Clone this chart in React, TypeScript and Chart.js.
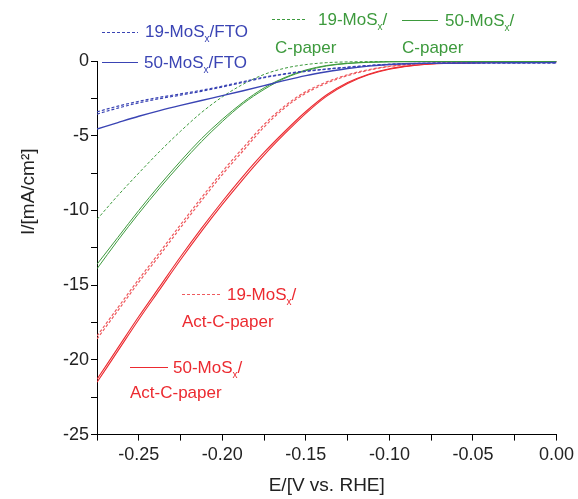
import React, { useEffect, useRef } from "react";
import { Chart, registerables } from "chart.js";

Chart.register(...registerables);

// Potential (V vs. RHE)
const potential = [
  -0.275, -0.2625, -0.25, -0.2375, -0.225, -0.2125, -0.2, -0.1875, -0.175, -0.1625,
  -0.15, -0.1375, -0.125, -0.1125, -0.1, -0.0875, -0.075, -0.05, -0.025, 0.0,
];

// Current density (mA/cm2)
const mos19FTO_a = [-3.4, -3.02, -2.7, -2.43, -2.2, -1.96, -1.68, -1.38, -1.08, -0.85, -0.67, -0.53, -0.41, -0.3, -0.22, -0.17, -0.15, -0.13, -0.12, -0.12];
const mos19FTO_b = [-3.55, -3.15, -2.8, -2.52, -2.28, -2.03, -1.74, -1.43, -1.12, -0.88, -0.7, -0.55, -0.43, -0.31, -0.23, -0.18, -0.15, -0.13, -0.12, -0.12];
const mos50FTO = [-4.55, -4.12, -3.7, -3.32, -2.97, -2.64, -2.32, -1.99, -1.65, -1.3, -0.98, -0.72, -0.5, -0.34, -0.23, -0.17, -0.15, -0.13, -0.12, -0.1];
const mos19CP = [-10.6, -9.0, -7.5, -6.05, -4.7, -3.45, -2.4, -1.55, -0.9, -0.48, -0.24, -0.11, -0.06, -0.04, -0.03, -0.03, -0.03, -0.03, -0.03, -0.03];
const mos50CP_a = [-13.6, -11.8, -10.0, -8.3, -6.7, -5.2, -3.9, -2.75, -1.8, -1.1, -0.6, -0.3, -0.15, -0.08, -0.05, -0.04, -0.03, -0.03, -0.03, -0.03];
const mos50CP_b = [-13.9, -12.0, -10.2, -8.5, -6.9, -5.4, -4.05, -2.85, -1.9, -1.15, -0.65, -0.33, -0.17, -0.09, -0.05, -0.04, -0.03, -0.03, -0.03, -0.03];
const mos19Act_a = [-18.4, -16.5, -14.6, -12.8, -10.95, -9.15, -7.4, -5.8, -4.25, -3.0, -2.05, -1.4, -0.92, -0.58, -0.35, -0.22, -0.15, -0.1, -0.07, -0.05];
const mos19Act_b = [-18.6, -16.7, -14.8, -13.0, -11.15, -9.35, -7.6, -6.0, -4.42, -3.12, -2.15, -1.48, -0.98, -0.62, -0.37, -0.23, -0.15, -0.1, -0.07, -0.05];
const mos50Act_a = [-21.5, -19.4, -17.3, -15.3, -13.3, -11.4, -9.6, -7.9, -6.3, -4.85, -3.5, -2.35, -1.5, -0.92, -0.55, -0.33, -0.2, -0.12, -0.07, -0.05];
const mos50Act_b = [-21.3, -19.2, -17.1, -15.1, -13.1, -11.2, -9.4, -7.7, -6.12, -4.7, -3.38, -2.26, -1.44, -0.88, -0.52, -0.31, -0.19, -0.12, -0.07, -0.05];

// Tick positions
const xTickValues = [-0.275, -0.25, -0.225, -0.2, -0.175, -0.15, -0.125, -0.1, -0.075, -0.05, -0.025, 0.0];
const xTickLabels = ["", "-0.25", "", "-0.20", "", "-0.15", "", "-0.10", "", "-0.05", "", "0.00"];
const yTickValues = [-25, -22.5, -20, -17.5, -15, -12.5, -10, -7.5, -5, -2.5, 0];
const yTickLabels = ["-25", "", "-20", "", "-15", "", "-10", "", "-5", "", "0"];

const BLUE = "#3a44b4";
const GREEN = "#3d9a3d";
const RED = "#ec2a30";
const RED_DASH = "#ee5a5e";
const FONT = "'Liberation Sans', Arial, sans-serif";

const toPts = (ys: number[]) => potential.map((x, i) => ({ x, y: ys[i] }));

const yTitlePlugin = {
  id: "yTitle",
  afterDraw(chart: any) {
    const { ctx, chartArea } = chart;
    ctx.save();
    ctx.translate(chartArea.left - 68, chartArea.top + (chartArea.bottom - chartArea.top) * 0.35);
    ctx.rotate(-Math.PI / 2);
    ctx.fillStyle = "#222";
    ctx.textAlign = "center";
    ctx.textBaseline = "middle";
    ctx.font = `19px ${FONT}`;
    ctx.fillText("I/[mA/cm²]", 0, 0);
    ctx.restore();
  },
};

function Sample({ left, top, width, color, dashed }: any) {
  return (
    <div
      style={{
        position: "absolute",
        left,
        top,
        width,
        height: 1,
        background: dashed
          ? `repeating-linear-gradient(90deg, ${color} 0 3px, transparent 3px 5px)`
          : color,
      }}
    />
  );
}

function Label({ left, top, color, children }: any) {
  return (
    <div
      style={{
        position: "absolute",
        left,
        top,
        color,
        fontFamily: FONT,
        fontSize: 17,
        lineHeight: "17px",
        whiteSpace: "nowrap",
      }}
    >
      {children}
    </div>
  );
}

const Sub = () => (
  <span style={{ fontSize: 10, position: "relative", top: 5 }}>x</span>
);

export default function App() {
  const ref = useRef<HTMLCanvasElement>(null);

  useEffect(() => {
    document.body.style.margin = "0";
    const mk = (data: number[], color: string, dashed: boolean, width = 1.2) => ({
      data: toPts(data),
      borderColor: color,
      borderWidth: width,
      borderDash: dashed ? [3, 2] : [],
      pointRadius: 0,
      cubicInterpolationMode: "monotone" as const,
      fill: false,
    });
    const chart = new Chart(ref.current!, {
      type: "line",
      data: {
        datasets: [
          mk(mos19FTO_a, BLUE, true),
          mk(mos19FTO_b, BLUE, true),
          mk(mos50FTO, BLUE, false, 1.4),
          mk(mos19CP, GREEN, true, 1),
          mk(mos50CP_a, GREEN, false, 1),
          mk(mos50CP_b, GREEN, false, 1),
          mk(mos19Act_a, RED_DASH, true),
          mk(mos19Act_b, RED_DASH, true),
          mk(mos50Act_a, RED, false, 1.1),
          mk(mos50Act_b, RED, false, 1.1),
        ] as any,
      },
      options: {
        animation: false,
        responsive: false,
        maintainAspectRatio: false,
        layout: { padding: { left: 61, top: 61, right: 19, bottom: 2 } },
        plugins: { legend: { display: false }, tooltip: { enabled: false } },
        scales: {
          x: {
            type: "linear",
            min: -0.275,
            max: 0,
            afterBuildTicks: (s: any) => {
              s.ticks = xTickValues.map((v) => ({ value: v }));
            },
            ticks: {
              autoSkip: false,
              maxRotation: 0,
              padding: 4,
              color: "#222",
              font: { family: FONT, size: 18 },
              callback: (v: any) => {
                const i = xTickValues.findIndex((t) => Math.abs(t - v) < 1e-9);
                return i >= 0 ? xTickLabels[i] : "";
              },
            },
            grid: { drawOnChartArea: false, drawTicks: true, tickLength: 6, color: "#000" },
            border: { color: "#000", width: 1 },
            title: {
              display: true,
              text: "E/[V vs. RHE]",
              color: "#222",
              font: { family: FONT, size: 19 },
              padding: { top: 4, bottom: 0 },
            },
          },
          y: {
            type: "linear",
            min: -25,
            max: 0,
            afterBuildTicks: (s: any) => {
              s.ticks = yTickValues.map((v) => ({ value: v }));
            },
            ticks: {
              autoSkip: false,
              padding: 2,
              color: "#222",
              font: { family: FONT, size: 18 },
              callback: (v: any) => {
                const i = yTickValues.findIndex((t) => Math.abs(t - v) < 1e-9);
                return i >= 0 ? yTickLabels[i] : "";
              },
            },
            grid: { drawOnChartArea: false, drawTicks: true, tickLength: 6, color: "#000" },
            border: { color: "#000", width: 1 },
          },
        },
      },
      plugins: [yTitlePlugin],
    });
    return () => chart.destroy();
  }, []);

  return (
    <div style={{ position: "relative", width: 578, height: 499, background: "#fff" }}>
      <canvas ref={ref} width={578} height={499} style={{ display: "block" }} />
      <Sample left={102} top={32} width={36} color={BLUE} dashed />
      <Label left={145} top={22.6} color={BLUE}>19-MoS<Sub />/FTO</Label>
      <Sample left={102} top={62} width={36} color={BLUE} />
      <Label left={144} top={53.6} color={BLUE}>50-MoS<Sub />/FTO</Label>

      <Sample left={272} top={19} width={35} color={GREEN} dashed />
      <Label left={318} top={10.6} color={GREEN}>19-MoS<Sub />/</Label>
      <Label left={275} top={38.6} color={GREEN}>C-paper</Label>
      <Sample left={402} top={20} width={36} color={GREEN} />
      <Label left={445} top={11.6} color={GREEN}>50-MoS<Sub />/</Label>
      <Label left={402} top={38.6} color={GREEN}>C-paper</Label>

      <Sample left={182} top={294} width={38} color={RED_DASH} dashed />
      <Label left={227} top={285.6} color={RED}>19-MoS<Sub />/</Label>
      <Label left={182} top={312.6} color={RED}>Act-C-paper</Label>
      <Sample left={130} top={367} width={38} color={RED} />
      <Label left={173} top={358.6} color={RED}>50-MoS<Sub />/</Label>
      <Label left={130} top={383.6} color={RED}>Act-C-paper</Label>
    </div>
  );
}
